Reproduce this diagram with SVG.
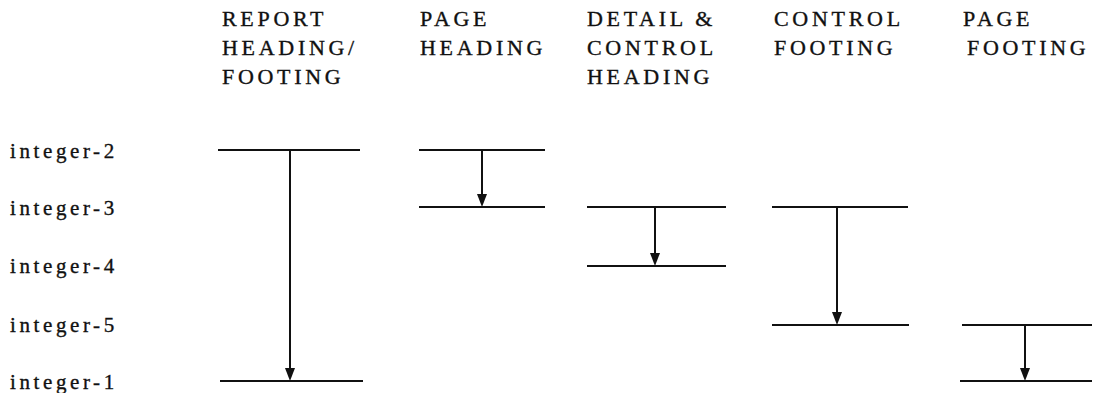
<svg xmlns="http://www.w3.org/2000/svg" width="1094" height="393" viewBox="0 0 1094 393">
<style>
.hdr{font-family:'Liberation Serif','Times New Roman','DejaVu Serif',serif;font-size:22px;letter-spacing:3.7px;fill:#111;stroke:#111;stroke-width:0.35}
.lbl{font-family:'Liberation Serif','Times New Roman','DejaVu Serif',serif;font-size:21px;letter-spacing:3.6px;fill:#111;stroke:#111;stroke-width:0.35}
.ln{stroke:#111;stroke-width:2;fill:none}
.ah{fill:#111}
</style>
<rect width="1094" height="393" fill="#fff"/>
<g id="labels">
<text class="lbl" x="10" y="158">integer-2</text>
<text class="lbl" x="10" y="215">integer-3</text>
<text class="lbl" x="10" y="273">integer-4</text>
<text class="lbl" x="10" y="332">integer-5</text>
<text class="lbl" x="10" y="389">integer-1</text>
</g>
<g id="col-report">
<text class="hdr" x="222" y="26">REPORT</text>
<text class="hdr" x="222" y="55">HEADING/</text>
<text class="hdr" x="222" y="84">FOOTING</text>
<line class="ln" x1="218" y1="150" x2="360" y2="150"/>
<line class="ln" x1="220" y1="381" x2="363" y2="381"/>
</g>
<g id="col-page-heading">
<text class="hdr" x="420" y="26">PAGE</text>
<text class="hdr" x="420" y="55">HEADING</text>
<line class="ln" x1="419" y1="150" x2="545" y2="150"/>
<line class="ln" x1="419" y1="207" x2="545" y2="207"/>
</g>
<g id="col-detail">
<text class="hdr" x="587" y="26">DETAIL &amp;</text>
<text class="hdr" x="587" y="55">CONTROL</text>
<text class="hdr" x="587" y="84">HEADING</text>
<line class="ln" x1="587" y1="207" x2="726" y2="207"/>
<line class="ln" x1="587" y1="266" x2="726" y2="266"/>
</g>
<g id="col-control-footing">
<text class="hdr" x="774" y="26">CONTROL</text>
<text class="hdr" x="774" y="55">FOOTING</text>
<line class="ln" x1="772" y1="207" x2="908" y2="207"/>
<line class="ln" x1="772" y1="325" x2="909" y2="325"/>
</g>
<g id="col-page-footing">
<text class="hdr" x="963" y="26">PAGE</text>
<text class="hdr" x="967" y="55">FOOTING</text>
<line class="ln" x1="962" y1="325" x2="1092" y2="325"/>
<line class="ln" x1="960" y1="381" x2="1092" y2="381"/>
</g>
<g id="connectors">
<line class="ln" x1="290" y1="150" x2="290" y2="370"/>
<path class="ah" d="M285,368 L295,368 L290,381 Z"/>
<line class="ln" x1="482" y1="150" x2="482" y2="196"/>
<path class="ah" d="M477,194 L487,194 L482,207 Z"/>
<line class="ln" x1="655" y1="207" x2="655" y2="255"/>
<path class="ah" d="M650,253 L660,253 L655,266 Z"/>
<line class="ln" x1="837" y1="207" x2="837" y2="314"/>
<path class="ah" d="M832,312 L842,312 L837,325 Z"/>
<line class="ln" x1="1025" y1="325" x2="1025" y2="370"/>
<path class="ah" d="M1020,368 L1030,368 L1025,381 Z"/>
</g>
</svg>
